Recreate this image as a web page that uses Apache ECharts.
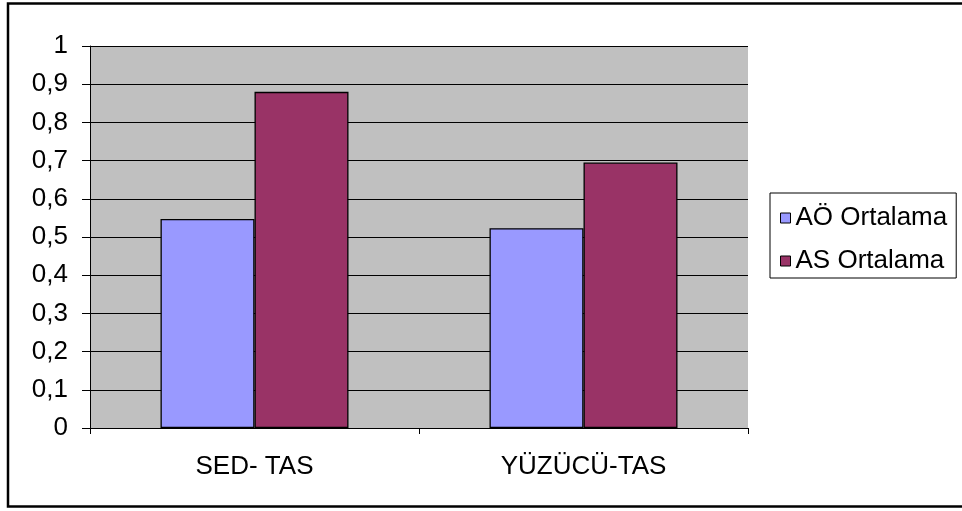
<!DOCTYPE html>
<html>
<head>
<meta charset="utf-8">
<script src="https://cdn.jsdelivr.net/npm/echarts@6/dist/echarts.min.js"></script>
<style>
	html, body { margin: 0; padding: 0; background: #fff; }
	#chart { width: 962px; height: 511px; }
</style>
</head>
<body>
<div id="chart"></div>
<script>
	// veriler
	const categories = ['SED- TAS', 'YÜZÜCÜ-TAS'];
	const aoValues = [0.547, 0.523];
	const asValues = [0.880, 0.695];
	const seriesNames = ['AÖ Ortalama', 'AS Ortalama'];

	const font = 'Liberation Sans, Arial, sans-serif';
	const chart = echarts.init(document.getElementById('chart'));

	const option = {
		backgroundColor: '#fff',
		animation: false,
		graphic: [{
			type: 'rect',
			// dış çerçeve, sağ kenar görüntünün dışında kalıyor
			shape: { x: 8, y: 3.5, width: 960, height: 503 },
			style: { fill: 'none', stroke: '#000', lineWidth: 2.5 }
		}],
		grid: {
			left: 90,
			top: 46,
			width: 658,
			height: 382,
			show: true,
			backgroundColor: '#C0C0C0',
			borderWidth: 0
		},
		legend: {
			orient: 'vertical',
			left: 770,
			top: 193,
			padding: [10, 9, 2, 10],
			itemGap: 13,
			itemWidth: 10,
			itemHeight: 10,
			borderColor: '#000',
			borderWidth: 1,
			icon: 'rect',
			itemStyle: { borderColor: '#000', borderWidth: 1 },
			textStyle: { fontFamily: font, fontSize: 26, lineHeight: 30, color: '#000' },
			data: seriesNames
		},
		xAxis: {
			type: 'category',
			data: categories,
			axisLine: { lineStyle: { color: '#000', width: 1 } },
			axisTick: { show: true, length: 6, lineStyle: { color: '#000' } },
			axisLabel: { fontFamily: font, fontSize: 26, color: '#000', margin: 26 }
		},
		yAxis: {
			type: 'value',
			min: 0,
			max: 1,
			interval: 0.1,
			axisLine: { show: true, lineStyle: { color: '#000', width: 1 } },
			axisTick: { show: true, length: 8, lineStyle: { color: '#000' } },
			splitLine: { show: true, lineStyle: { color: '#000', width: 1 } },
			axisLabel: {
				fontFamily: font,
				fontSize: 26,
				color: '#000',
				margin: 22,
				formatter: function (v) {
					return String(Math.round(v * 10) / 10).replace('.', ',');
				}
			}
		},
		series: [{
			name: seriesNames[0],
			type: 'bar',
			data: aoValues,
			barWidth: 94,
			barGap: '0%',
			itemStyle: { color: '#9999FF', borderColor: '#000', borderWidth: 1.3 }
		}, {
			name: seriesNames[1],
			type: 'bar',
			data: asValues,
			barWidth: 94,
			barGap: '0%',
			itemStyle: { color: '#993366', borderColor: '#000', borderWidth: 1.3 }
		}]
	};

	chart.setOption(option);
</script>
</body>
</html>
